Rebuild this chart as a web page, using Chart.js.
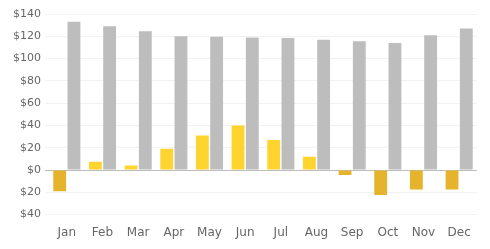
<!DOCTYPE html>
<html>
<head>
<meta charset="utf-8">
<script src="https://cdn.jsdelivr.net/npm/chart.js@4"></script>
<style>
  html, body { margin: 0; padding: 0; background: #fff; }
  #wrap { width: 490px; height: 249px; }
</style>
</head>
<body>
<div id="wrap"><canvas id="chart"></canvas></div>
<script>
var months = ["Jan", "Feb", "Mar", "Apr", "May", "Jun", "Jul", "Aug", "Sep", "Oct", "Nov", "Dec"];
var net_values = [-19, 7.5, 4, 19, 31, 40, 27, 12, -4.5, -22.5, -17.5, -17.5];
var gray_values = [133, 129, 124.5, 120, 119.5, 119, 118.5, 117, 115.5, 114, 121, 127];
var y_ticks = [-40, -20, 0, 20, 40, 60, 80, 100, 120, 140];

var ctx = document.getElementById("chart");
var chart = new Chart(ctx, {
	type: 'bar',
	data: {
		labels: months,
		datasets: [{
			data: net_values,
			backgroundColor: function(c) {
				var v = c.raw;
				return v < 0 ? '#E6B42C' : '#FFD42F';
			},
			borderWidth: 0
		}, {
			data: gray_values,
			backgroundColor: '#BDBDBD',
			borderWidth: 0
		}]
	},
	options: {
		responsive: true,
		maintainAspectRatio: false,
		animation: false,
		layout: { padding: { top: 14, right: 13, bottom: 6, left: 9 } },
		plugins: {
			legend: { display: false },
			tooltip: { enabled: false }
		},
		scales: {
			x: {
				grid: { display: false },
				border: { display: false },
				ticks: {
					color: '#666',
					font: { family: 'DejaVu Sans', size: 12 },
					padding: 3
				}
			},
			y: {
				min: -40,
				max: 140,
				afterBuildTicks: function(axis) {
					axis.ticks = y_ticks.map(function(v) { return { value: v }; });
				},
				border: { display: false },
				grid: {
					color: function(c) {
						return c.tick && c.tick.value === 0 ? '#bdbdbd' : '#f2f2f2';
					},
					tickLength: 4
				},
				ticks: {
					color: '#666',
					font: { family: 'DejaVu Sans', size: 11 },
					padding: 4,
					callback: function(v) { return '$' + Math.abs(v); }
				}
			}
		}
	}
});
</script>
</body>
</html>
